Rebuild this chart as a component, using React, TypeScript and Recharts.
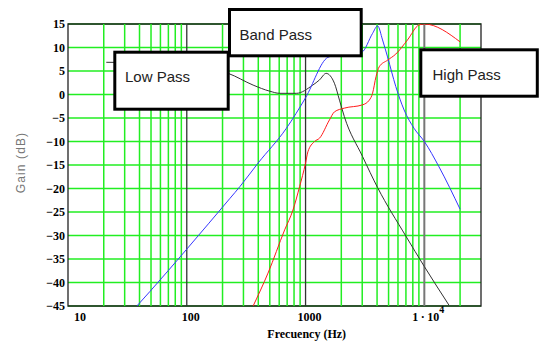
import React from "react";
import { LineChart, Line, XAxis, YAxis, CartesianGrid, ReferenceLine, ReferenceArea } from "recharts";

// ---- data (frequency Hz, gain dB) ----
const lowPass = [
  { f: 21, db: 6.85 }, { f: 40, db: 6.8 }, { f: 80, db: 6.5 }, { f: 150, db: 5.6 },
  { f: 223, db: 4.5 }, { f: 362, db: 2.0 }, { f: 500, db: 0.7 }, { f: 605, db: 0.25 },
  { f: 836, db: 0.25 }, { f: 1150, db: 2.0 }, { f: 1310, db: 3.1 }, { f: 1490, db: 4.5 },
  { f: 1750, db: 2.4 }, { f: 1930, db: -1.2 }, { f: 2120, db: -4.7 }, { f: 3020, db: -13.2 },
  { f: 4040, db: -19.8 }, { f: 6980, db: -30.1 }, { f: 10000, db: -36.6 }, { f: 16100, db: -44.8 },
];

const bandPass = [
  { f: 38, db: -45 }, { f: 49, db: -41.9 }, { f: 100, db: -32.9 }, { f: 231, db: -22.1 },
  { f: 280, db: -19.6 }, { f: 398, db: -14.6 }, { f: 689, db: -7.2 }, { f: 1000, db: -0.7 },
  { f: 1540, db: 7.9 }, { f: 2000, db: 8.6 }, { f: 2965, db: 9.0 }, { f: 3665, db: 13.0 },
  { f: 4040, db: 14.6 }, { f: 4450, db: 11.6 }, { f: 4900, db: 8.0 }, { f: 5750, db: 1.7 },
  { f: 6760, db: -3.3 }, { f: 8200, db: -7.2 }, { f: 10000, db: -10 }, { f: 13300, db: -15.4 },
  { f: 20000, db: -24.4 },
];

const highPass = [
  { f: 362, db: -45 }, { f: 483, db: -38 }, { f: 667, db: -28.8 }, { f: 783, db: -24.6 },
  { f: 891, db: -19.6 }, { f: 1000, db: -14.6 }, { f: 1046, db: -12.2 }, { f: 1190, db: -10.0 },
  { f: 1310, db: -9.3 }, { f: 1590, db: -5.4 }, { f: 1750, db: -3.7 }, { f: 2120, db: -2.9 },
  { f: 3020, db: -2.2 }, { f: 3440, db: -1.2 }, { f: 3665, db: 0.25 }, { f: 3920, db: 3.8 },
  { f: 4170, db: 5.9 }, { f: 4900, db: 7.3 }, { f: 5750, db: 8.6 }, { f: 7210, db: 11.6 },
  { f: 9020, db: 14.8 }, { f: 10000, db: 15 }, { f: 20000, db: 11.2 },
];

const xTicks = [10, 100, 1000, 10000];
const yTicks = [-45, -40, -35, -30, -25, -20, -15, -10, -5, 0, 5, 10, 15];
const minorFreqs = [
  20, 30, 40, 50, 60, 70, 80, 90,
  200, 300, 400, 500, 600, 700, 800, 900,
  2000, 3000, 4000, 5000, 6000, 7000, 8000, 9000,
  20000,
];
const majorFreqs = [100, 1000];
const labels = ["Low Pass", "Band Pass", "High Pass"];

const GREEN = "#22ee22";
const serif = "'Liberation Serif', 'DejaVu Serif', serif";
const sans = "'Liberation Sans', Arial, sans-serif";

const xDx: Record<number, number> = { 10: 12, 100: 4, 1000: 4 };

const XTick = (props: any) => {
  const { x, y, payload } = props;
  const v = payload.value;
  const common = { fontFamily: serif, fontWeight: 700, fontSize: 12, fill: "#000" } as any;
  if (v === 10000) {
    return (
      <text x={x - 12} y={y + 13} textAnchor="start" {...common}>
        <tspan>{"1\u2009\u00b7\u200910"}</tspan>
        <tspan dy={-8} fontSize={10}>4</tspan>
      </text>
    );
  }
  return (
    <text x={x + (xDx[v] || 0)} y={y + 13} textAnchor="middle" {...common}>
      {String(v)}
    </text>
  );
};

const fmtY = (v: number) => (v < 0 ? "\u2212" + Math.abs(v) : String(v));

const YTick = (props: any) => {
  const { x, y, payload } = props;
  return (
    <text
      x={x}
      y={y + 4}
      textAnchor="end"
      fontFamily={serif}
      fontWeight={700}
      fontSize={12}
      fill="#000"
    >
      {fmtY(payload.value)}
    </text>
  );
};

export default function App() {
  return (
    <div style={{ position: "absolute", left: 0, top: 0, width: 539, height: 345, background: "#fff" }}>
      <LineChart width={539} height={345} margin={{ top: 24, right: 58, bottom: 0, left: 0 }}>
        <CartesianGrid vertical={false} stroke={GREEN} strokeWidth={1.5} strokeOpacity={1} />
        <XAxis
          dataKey="f"
          type="number"
          scale="log"
          domain={[10, 30000]}
          ticks={xTicks}
          allowDataOverflow
          tick={<XTick />}
          tickLine={false}
          tickSize={0}
          tickMargin={2}
          axisLine={false}
          height={39}
          interval={0}
          label={{
            content: () => (
              <text x={306.7} y={338} textAnchor="middle" fontFamily={serif} fontWeight={700} fontSize={12} fill="#000">
                Frecuency (Hz)
              </text>
            ),
          }}
        />
        <YAxis
          type="number"
          domain={[-45, 15]}
          ticks={yTicks}
          allowDataOverflow
          width={68}
          tickLine={false}
          tickSize={0}
          tickMargin={3}
          axisLine={false}
          interval={0}
          tick={<YTick />}
          label={{
            content: () => (
              <text
                x={24.5}
                y={162.5}
                transform="rotate(-90 24.5 162.5)"
                textAnchor="middle"
                fontFamily={sans}
                fontSize={12}
                letterSpacing={1.1}
                fill="#777"
              >
                Gain (dB)
              </text>
            ),
          }}
        />
        {minorFreqs.map((f) => (
          <ReferenceLine key={"m" + f} x={f} stroke={GREEN} strokeWidth={1.5} />
        ))}
        {majorFreqs.map((f) => (
          <ReferenceLine key={"M" + f} x={f} stroke="#333" strokeWidth={1.3} />
        ))}
        <ReferenceLine x={10000} stroke="#777" strokeWidth={2} />
        <ReferenceArea x1={10} x2={30000} y1={-45} y2={15} fill="none" stroke="#222" strokeWidth={1.3} ifOverflow="visible" />
        <Line data={lowPass} dataKey="db" type="monotone" stroke="#333" strokeWidth={1} dot={false} activeDot={false} isAnimationActive={false} />
        <Line data={bandPass} dataKey="db" type="monotone" stroke="#3636ff" strokeWidth={1} dot={false} activeDot={false} isAnimationActive={false} />
        <Line data={highPass} dataKey="db" type="monotone" stroke="#ff1a1a" strokeWidth={1} dot={false} activeDot={false} isAnimationActive={false} />
      </LineChart>
      <svg width={539} height={345} style={{ position: "absolute", left: 0, top: 0, pointerEvents: "none" }}>
        <g fontFamily={sans} fontSize={15} fill="#222">
          <rect x={114.8} y={52.2} width={113.4} height={57} fill="#fff" stroke="#000" strokeWidth={3} />
          <text x={125} y={82}>{labels[0]}</text>
          <rect x={229.5} y={9.5} width={131.7} height={46.3} fill="#fff" stroke="#000" strokeWidth={3} />
          <text x={239.5} y={39.5}>{labels[1]}</text>
          <rect x={420.8} y={49.8} width={116.5} height={46.4} fill="#fff" stroke="#000" strokeWidth={3} />
          <text x={432.5} y={80}>{labels[2]}</text>
        </g>
      </svg>
    </div>
  );
}
